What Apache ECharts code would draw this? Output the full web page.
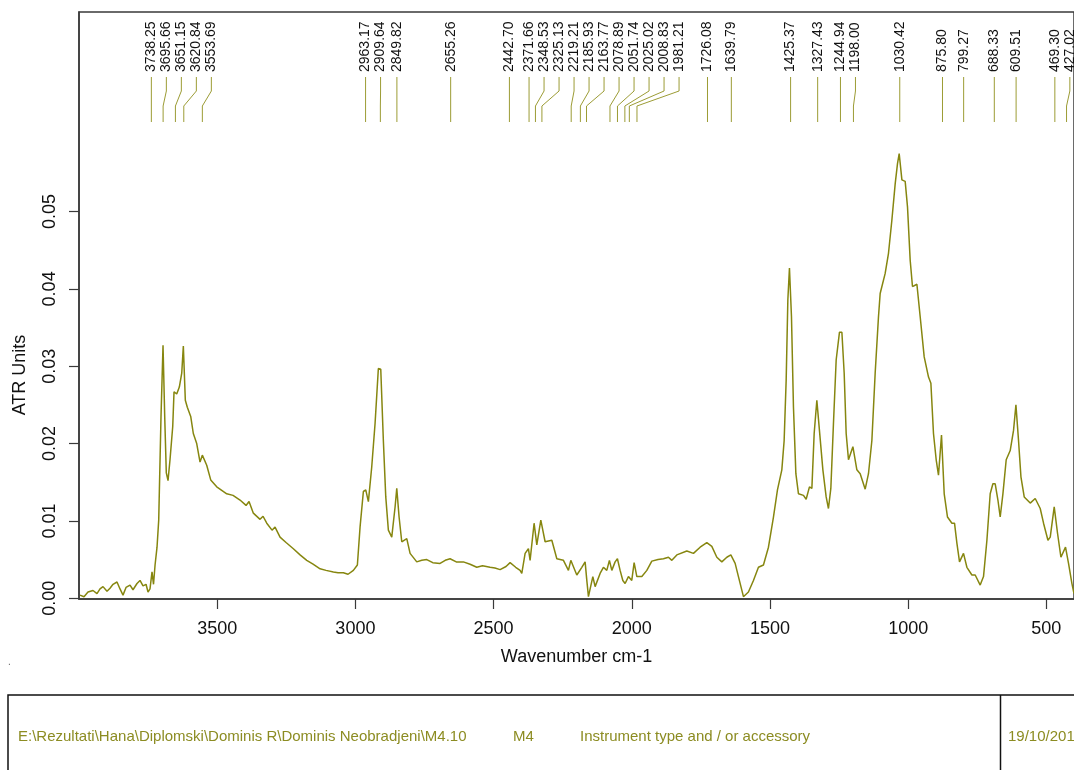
<!DOCTYPE html>
<html>
<head>
<meta charset="utf-8">
<script src="https://cdn.jsdelivr.net/npm/echarts@6/dist/echarts.min.js"></script>
<style>
html,body{margin:0;padding:0;background:#fff;}
#chart{width:1074px;height:770px;}
</style>
</head>
<body>
<div id="chart"></div>
<script>
// Wavenumbers (cm-1), left to right
const wavenumbers = [
3996.4,3981.9,3967.4,3949.3,3934.9,3924.0,3913.1,3898.7,3887.8,3876.9,3862.5,3851.6,3840.8,3829.9,3815.4,3804.6,3790.1,3779.2,3768.4,3757.5,3750.3,3743.1,3735.8,3730.4,3724.8,3717.7,3711.6,
3703.3,3696.0,3689.9,3684.1,3677.9,3670.7,3660.9,3656.2,3646.4,3637.0,3628.3,3622.5,3615.3,3608.1,3595.8,3586.4,3574.1,3562.1,3553.8,3537.9,3523.4,3501.7,3465.5,3442.7,3417.4,3395.6,3384.8,3369.2,3345.0,3334.1,3320.7,3301.6,3290.7,3272.6,3250.9,3224.4,3200.2,3176.0,3153.2,3127.8,3106.1,3079.7,3062.7,3043.5,3026.5,3007.3,2992.8,
2983.1,2971.1,2962.5,2953.0,2940.8,2928.8,2916.9,2908.2,2898.8,2890.1,2880.7,2868.4,2856.4,2850.3,2841.9,2832.2,2814.1,2802.1,2777.9,2760,2741.7,2720,2693.6,2675,2657.4,2635,2609.3,2585,2560.8,2540,2512.6,2495,2476.4,2455,2440.3,2420,2404.1,2397.9,2385.9,2374.0,2367.9,2353.4,2343.6,2329.1,2313.6,2289.3,2271.2,2247.3,2229.2,2220.6,2198.9,2180.8,2168.8,2162.7,2156.8,2150.7,2140.9,2132.6,2114.6,2102.6,2090.4,2080.9,2072.2,2060.3,2051.9,2042.2,2032.4,2024.1,2012.1,2000.0,1991.5,1981.7,1963.6,1945.5,1927.5,1905,1885.4,1867.3,1855.0,1837.0,1800.8,1776.9,1752.7,1728.5,1710.4,1692.3,1674.2,1656.1,1641.6,1626.0,1614.1,1596.0,1577.9,1559.8,1541.7,1523.6,1505.5,
1487.4,1472.9,1457.1,1448.7,1441.4,1435.3,1429.5,1422.2,1415.0,1406.3,1396.9,1378.8,1369.1,1357.1,1348.4,1340.1,1330.4,1321.0,1308.6,1296.7,1288.4,1279.8,1270.3,1260.5,1248.5,1239.8,1231.5,1224.3,1215.9,1200.0,1185.6,1173.6,1155.5,1143.6,1131.3,1119.4,1107.4,1101.3,1083.2,1071.2,1058.9,1046.9,1038.6,1032.5,1022.7,1010.8,1002.4,992.7,984.4,968.4,956.5,942.0,926.4,917.8,908.4,898.6,890.3,879.4,869.6,857.7,841.7,832.3,823.6,814.2,799.8,787.5,769.4,757.5,739.4,727.4,715.1,703.2,693.4,685.1,675.3,667.0,657.2,645.3,630.8,618.8,610.1,600.7,592.0,580.1,558.4,540.3,522.2,510.2,494.3,486.0,471.6,459.6,447.3,440.1,430.7,419.8,407.5,400
];
// ATR absorbance values
const atrUnits = [
0.0004,0.0002,0.0008,0.0010,0.0006,0.0012,0.0015,0.0009,0.0013,0.0018,0.0021,0.0012,0.0004,0.0014,0.0017,0.0011,0.0019,0.0023,0.0016,0.0018,0.0008,0.0012,0.0034,0.0018,0.0043,0.0066,0.0101,
0.0235,0.0327,0.0235,0.0162,0.0152,0.0179,0.0222,0.0267,0.0264,0.0273,0.0291,0.0326,0.0256,0.0247,0.0235,0.0213,0.0200,0.0176,0.0185,0.0172,0.0153,0.0144,0.0135,0.0133,0.0127,0.0120,0.0125,0.0110,0.0102,0.0106,0.0097,0.0088,0.0092,0.0079,0.0072,0.0064,0.0056,0.0049,0.0044,0.0038,0.0036,0.0034,0.0033,0.0033,0.0031,0.0036,0.0043,
0.0092,0.0138,0.0140,0.0125,0.0170,0.0226,0.0297,0.0296,0.0204,0.0131,0.0088,0.0079,0.0118,0.0142,0.0105,0.0073,0.0077,0.0058,0.0047,0.0049,0.0050,0.0046,0.0045,0.0049,0.0051,0.0047,0.0047,0.0044,0.0040,0.0042,0.0040,0.0039,0.0037,0.0041,0.0046,0.0040,0.0036,0.0032,0.0058,0.0064,0.0049,0.0097,0.0069,0.0101,0.0073,0.0075,0.0051,0.0049,0.0036,0.0049,0.0030,0.0040,0.0047,0.0023,0.0002,0.0003,0.0028,0.0015,0.0032,0.0040,0.0036,0.0049,0.0036,0.0047,0.0051,0.0036,0.0023,0.0019,0.0028,0.0023,0.0046,0.0028,0.0028,0.0036,0.0048,0.0050,0.0051,0.0053,0.0049,0.0056,0.0061,0.0058,0.0066,0.0072,0.0067,0.0053,0.0047,0.0053,0.0056,0.0045,0.0028,0.0002,0.0008,0.0023,0.0040,0.0043,0.0066,
0.0105,0.0140,0.0166,0.0204,0.0282,0.0386,0.0427,0.0364,0.0247,0.0161,0.0135,0.0133,0.0128,0.0144,0.0142,0.0213,0.0256,0.0217,0.0166,0.0131,0.0116,0.0142,0.0226,0.0308,0.0344,0.0344,0.0291,0.0213,0.0179,0.0196,0.0166,0.0161,0.0141,0.0161,0.0204,0.0291,0.0364,0.0394,0.0420,0.0446,0.0489,0.0536,0.0562,0.0575,0.0541,0.0539,0.0506,0.0437,0.0403,0.0406,0.0364,0.0312,0.0286,0.0278,0.0213,0.0179,0.0159,0.0211,0.0135,0.0105,0.0097,0.0097,0.0071,0.0047,0.0058,0.0040,0.0030,0.0030,0.0017,0.0028,0.0075,0.0135,0.0148,0.0148,0.0127,0.0105,0.0135,0.0179,0.0191,0.0217,0.0250,0.0204,0.0157,0.0131,0.0123,0.0129,0.0116,0.0097,0.0075,0.0079,0.0118,0.0084,0.0053,0.0053,0.0066,0.0045,0.0019,0.0006
];
// Peak picking labels
const peakLabels = ['3738.25','3695.66','3651.15','3620.84','3553.69','2963.17','2909.64','2849.82','2655.26','2442.70','2371.66','2348.53','2325.13','2219.21','2185.93','2163.77','2078.89','2051.74','2025.02','2008.83','1981.21','1726.08','1639.79','1425.37','1327.43','1244.94','1198.00','1030.42','875.80','799.27','688.33','609.51','469.30','427.02'];
const xTicks = [3500,3000,2500,2000,1500,1000,500];
const yTicks = [0,0.01,0.02,0.03,0.04,0.05];
const xTitle = 'Wavenumber cm-1';
const yTitle = 'ATR Units';
const footerTexts = ['E:\\Rezultati\\Hana\\Diplomski\\Dominis R\\Dominis Neobradjeni\\M4.10','M4','Instrument type and / or accessory','19/10/2016'];

const FONT = '"Liberation Sans", Arial, Helvetica, sans-serif';
const OLIVE = '#86860f';
const chart = echarts.init(document.getElementById('chart'), null, {renderer:'canvas'});
const seriesData = wavenumbers.map((w, i) => [w, atrUnits[i]]);

const option = {
  animation: false,
  backgroundColor: '#ffffff',
  grid: {left: 79, top: 12, right: 0, bottom: 171, show: true, borderColor: '#3a3a3a', borderWidth: 1.5, containLabel: false},
  xAxis: {
    type: 'value', inverse: true, min: 400, max: 4000,
    name: xTitle, nameLocation: 'middle', nameGap: 49,
    nameTextStyle: {fontSize: 18, color: '#111', fontFamily: FONT},
    axisLine: {show: true, onZero: false, lineStyle: {color: '#3a3a3a', width: 1.5}},
    axisTick: {show: true, inside: false, length: 10, customValues: xTicks, lineStyle: {color: '#3a3a3a', width: 1.2}},
    axisLabel: {show: true, customValues: xTicks, margin: 21, fontSize: 18, color: '#111', fontFamily: FONT,
      formatter: v => String(Math.round(v))},
    splitLine: {show: false}
  },
  yAxis: {
    type: 'value', min: -0.0001, max: 0.0758,
    axisLine: {show: true, onZero: false, lineStyle: {color: '#3a3a3a', width: 1.5}},
    axisTick: {show: true, inside: false, length: 10, customValues: yTicks, lineStyle: {color: '#3a3a3a', width: 1.2}},
    axisLabel: {show: true, customValues: yTicks, rotate: 90, margin: 20, fontSize: 18, color: '#111', fontFamily: FONT,
      formatter: v => v.toFixed(2)},
    splitLine: {show: false}
  },
  series: [{
    type: 'line', data: seriesData, showSymbol: false, smooth: false,
    lineStyle: {color: OLIVE, width: 1.5}, itemStyle: {color: OLIVE}, z: 3
  }]
};
chart.setOption(option);

// Peak labels with connector lines, placed via the x axis scale
const gridTop = 12;
const labelBottom = gridTop + 60;
const MIN_GAP = 15;
let prevX = -Infinity;
const peakEls = [];
peakLabels.forEach(s => {
  const px = chart.convertToPixel({xAxisIndex: 0}, parseFloat(s));
  const lx = Math.max(px, prevX + MIN_GAP);
  prevX = lx;
  peakEls.push({
    type: 'text', x: lx, y: labelBottom, rotation: Math.PI / 2, z: 10,
    style: {text: s, fontSize: 14, fill: '#111', align: 'left', verticalAlign: 'middle', fontFamily: FONT}
  });
  peakEls.push({
    type: 'polyline', z: 10,
    shape: {points: [[lx, gridTop + 65], [lx, gridTop + 79], [px, gridTop + 94], [px, gridTop + 110]]},
    style: {stroke: '#9c9c35', lineWidth: 1, fill: null}
  });
});

const footerEls = [
  {type: 'rect', shape: {x: 8, y: 695, width: 1100, height: 120}, style: {fill: null, stroke: '#111', lineWidth: 1.5}},
  {type: 'line', shape: {x1: 1000.5, y1: 695, x2: 1000.5, y2: 780}, style: {stroke: '#111', lineWidth: 1.5}},
  {type: 'text', x: 18, y: 737, style: {text: footerTexts[0], fontSize: 15, fill: '#8c8c22', fontFamily: FONT, verticalAlign: 'middle'}},
  {type: 'text', x: 513, y: 737, style: {text: footerTexts[1], fontSize: 15, fill: '#8c8c22', fontFamily: FONT, verticalAlign: 'middle'}},
  {type: 'text', x: 580, y: 737, style: {text: footerTexts[2], fontSize: 15, fill: '#8c8c22', fontFamily: FONT, verticalAlign: 'middle'}},
  {type: 'text', x: 1008, y: 737, style: {text: footerTexts[3], fontSize: 15, fill: '#8c8c22', fontFamily: FONT, verticalAlign: 'middle'}},
  {type: 'text', x: 8, y: 662, style: {text: '.', fontSize: 10, fill: '#666', fontFamily: FONT, verticalAlign: 'middle'}},
  {type: 'text', x: 20, y: 375, rotation: Math.PI / 2,
   style: {text: yTitle, fontSize: 18, fill: '#111', fontFamily: FONT, align: 'center', verticalAlign: 'middle'}}
];

chart.setOption({graphic: {elements: peakEls.concat(footerEls)}});
</script>
</body>
</html>
